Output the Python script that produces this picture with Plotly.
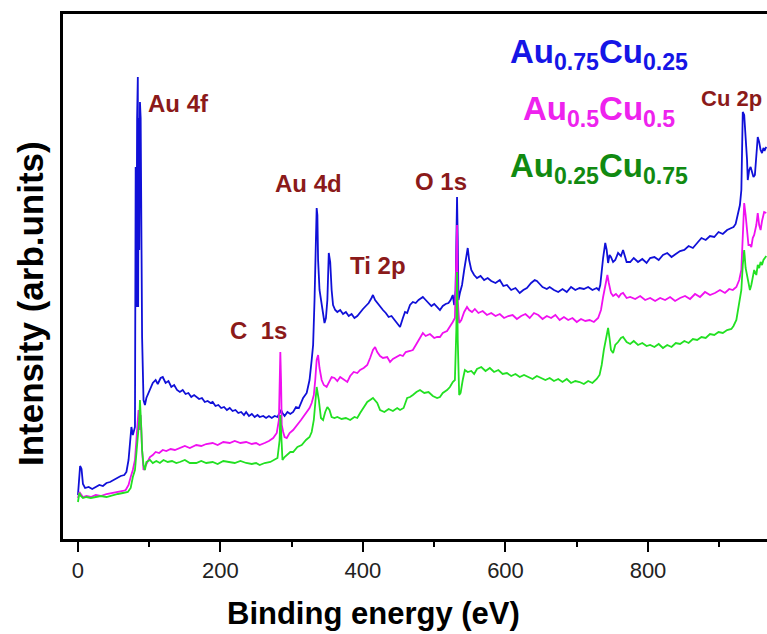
import plotly.graph_objects as go

# ---------------- data (binding energy in eV, intensity in arb. units) ----------------
blue_x = [0, 1.5, 3, 5, 7, 10, 15, 20, 25, 30, 35, 40, 45, 50, 55, 60, 65, 68, 71, 73, 75, 77, 79,
          80, 81, 82, 83, 84, 84.5, 85, 86, 87, 88, 89, 90, 92, 94, 96,
          101, 105, 109, 112, 116, 119, 123, 127, 131, 135, 139, 143, 147, 151, 155, 159, 163, 166,
          170, 174, 178, 182, 186, 189, 193, 197, 201, 205, 209, 213, 217, 221, 225, 229, 233, 236,
          240, 244, 248, 252, 255, 260, 264, 268, 272, 276, 280, 283, 285, 287, 290, 294, 298, 302,
          306, 310, 316, 321, 325, 328, 330, 332, 334, 335, 336, 337, 339, 342, 344, 346, 348, 350,
          352, 354, 356, 358, 361, 364, 368, 372, 376, 380, 384, 388, 392, 396, 400, 404, 408, 412,
          414, 417, 420, 424, 428, 432, 436, 440, 444, 448, 452, 456, 459, 462, 466, 470, 474, 478,
          484, 488, 492, 496, 500, 504, 508, 512, 516, 520, 523, 526, 528, 530, 531, 532, 533, 534,
          536, 539, 542, 545, 547, 549, 552, 556, 560, 565, 570, 575, 580, 586, 592, 597, 602, 608,
          614, 620, 625, 630, 636, 641, 644, 648, 652, 658, 662, 668, 674, 680, 686, 692, 698, 704,
          710, 716, 722, 728, 731, 733, 735, 737, 740, 742, 744, 746, 748, 751, 754, 758, 762, 765,
          770, 775, 780, 786, 792, 798, 803, 809, 815, 821, 827, 833, 839, 845, 851, 857, 863, 869,
          875, 881, 887, 893, 899, 905, 911, 917, 920, 923, 926, 929, 931, 932, 933, 935, 937, 939,
          940, 942, 944, 946, 948, 950, 952, 954, 956, 958, 960, 962, 964, 966]
blue_y = [44, 60, 73, 70, 55, 51, 52, 50, 52, 54, 53, 56, 57, 59, 61, 63, 64, 67, 79, 99, 112, 104, 109,
          112, 372, 232, 421, 462, 232, 421, 289, 437, 421, 232, 202, 139, 134, 141,
          149, 156, 159, 155, 161, 162, 156, 158, 152, 154, 149, 147, 149, 145, 146, 142, 144, 142,
          140, 141, 137, 138, 136, 137, 133, 134, 131, 132, 129, 131, 128, 129, 126, 127, 124, 127,
          123, 125, 122, 124, 122, 123, 121, 123, 121, 123, 122, 126, 129, 126, 123, 127, 125, 127,
          132, 131, 141, 146, 159, 179, 194, 239, 309, 331, 324, 279, 249, 234, 221, 216, 221, 239,
          286, 277, 249, 234, 229, 227, 229, 225, 227, 223, 225, 221, 223, 227, 230, 233, 236, 241,
          244, 239, 236, 232, 229, 226, 222, 223, 219, 216, 212, 221, 227, 226, 234, 237, 236, 239,
          242, 239, 236, 233, 235, 232, 229, 233, 235, 236, 239, 244, 234, 249, 309, 342, 299, 239,
          246, 254, 269, 284, 291, 279, 269, 264, 261, 263, 259, 261, 258, 256, 259, 253, 254, 249,
          251, 246, 249, 251, 256, 259, 258, 255, 252, 250, 252, 249, 247, 250, 247, 252, 249, 251,
          250, 252, 249, 251, 249, 254, 269, 281, 296, 289, 276, 284, 282, 277, 279, 286, 283, 289,
          277, 277, 281, 277, 280, 276, 281, 282, 279, 284, 286, 282, 285, 288, 289, 293, 291, 296,
          301, 299, 303, 302, 307, 305, 309, 311, 312, 315, 326, 334, 349, 389, 427, 424, 406, 379,
          359, 369, 372, 367, 362, 364, 384, 402, 397, 389, 386, 391, 389, 392]

mag_x = [0, 2, 4, 7, 12, 18, 25, 32, 40, 49, 56, 63, 67, 71, 74, 77, 80, 82, 84, 85, 87, 88, 90, 92,
         94, 97, 101, 105, 109, 114, 119, 124, 130, 136, 143, 150, 157, 166, 173, 180, 189, 196,
         204, 213, 220, 228, 236, 244, 250, 255, 262, 268, 274, 279, 282, 284, 285, 286, 288, 290,
         293, 297, 302, 308, 313, 316, 321, 325, 328, 331, 333, 335, 337, 339, 342, 345, 349, 352,
         356, 360, 364, 368, 372, 378, 382, 387, 392, 396, 401, 406, 410, 414, 417, 420, 424, 428,
         434, 438, 442, 447, 452, 456, 460, 466, 470, 475, 480, 484, 488, 494, 500, 504, 508, 512,
         518, 522, 526, 529, 531, 532, 533, 535, 538, 542, 546, 549, 553, 557, 562, 568, 574, 580,
         586, 592, 598, 604, 610, 616, 622, 628, 634, 640, 646, 652, 658, 664, 670, 676, 682, 688,
         694, 700, 706, 712, 718, 724, 730, 734, 737, 740, 743, 745, 748, 751, 755, 759, 762, 765,
         770, 775, 782, 789, 796, 803, 810, 817, 824, 831, 838, 845, 852, 859, 866, 873, 880, 887,
         894, 901, 908, 914, 919, 924, 928, 931, 933, 935, 937, 939, 941, 943, 945, 947, 949, 952,
         954, 956, 958, 960, 963, 966]
mag_y = [41, 47, 45, 42, 43, 42, 44, 43, 45, 46, 47, 48, 49, 54, 62, 69, 79, 99, 119, 129, 109, 124, 89, 69,
         72, 77, 82, 84, 87, 86, 89, 88, 90, 89, 91, 93, 91, 94, 93, 95, 96, 94,
         97, 96, 98, 96, 97, 95, 96, 94, 96, 98, 101, 106, 119, 187, 159, 114, 107, 102,
         101, 106, 109, 114, 119, 122, 127, 131, 136, 144, 159, 179, 184, 171, 159, 154, 152, 156,
         162, 161, 158, 162, 160, 157, 163, 167, 166, 169, 171, 174, 181, 189, 192, 187, 183, 181,
         182, 177, 180, 182, 184, 183, 187, 188, 189, 195, 202, 206, 203, 205, 201, 202, 202, 206,
         208, 212, 217, 221, 279, 314, 239, 216, 219, 227, 232, 229, 227, 230, 226, 228, 224, 226,
         223, 225, 221, 223, 224, 220, 223, 225, 221, 226, 224, 220, 223, 221, 224, 219, 222, 219,
         221, 217, 220, 218, 219, 217, 221, 229, 242, 254, 264, 256, 246, 243, 245, 242, 245, 246,
         241, 242, 240, 243, 239, 241, 238, 241, 239, 242, 238, 241, 243, 240, 245, 242, 247, 244,
         246, 249, 246, 250, 249, 252, 259, 269, 299, 336, 324, 309, 294, 294, 292, 301, 304, 314,
         326, 314, 309, 318, 327, 326]

grn_x = [0, 2, 4, 7, 12, 18, 25, 32, 40, 49, 56, 63, 70, 74, 77, 80, 82, 84, 86, 87, 88, 89, 90, 92,
         94, 96, 101, 105, 110, 115, 120, 126, 132, 138, 143, 150, 157, 166, 173, 180, 189, 196,
         204, 213, 220, 228, 236, 244, 250, 255, 262, 270, 276, 280, 283, 284, 285, 287, 290, 293,
         298, 302, 308, 314, 320, 325, 328, 331, 333, 335, 338, 341, 344, 347, 350, 353, 356, 360,
         364, 370, 376, 382, 388, 392, 396, 401, 406, 410, 414, 420, 424, 430, 436, 442, 448, 452,
         457, 462, 466, 470, 475, 480, 486, 492, 498, 504, 508, 512, 518, 522, 526, 529, 531, 532,
         533, 535, 537, 540, 543, 547, 552, 556, 560, 566, 572, 578, 584, 590, 596, 602, 608, 614,
         620, 626, 632, 638, 644, 650, 656, 662, 668, 674, 680, 686, 692, 698, 704, 710, 716, 722,
         728, 732, 735, 738, 741, 744, 746, 748, 751, 754, 758, 762, 765, 770, 775, 780, 786, 792,
         798, 803, 809, 815, 821, 827, 833, 839, 845, 851, 857, 863, 869, 875, 881, 887, 893, 899,
         905, 911, 917, 920, 924, 928, 931, 933, 935, 937, 939, 941, 943, 945, 947, 949, 952, 954,
         956, 958, 960, 962, 964, 966]
grn_y = [37, 46, 43, 41, 42, 41, 42, 43, 42, 44, 45, 46, 47, 51, 62, 69, 84, 102, 119, 139, 129, 109, 89, 74,
         69, 77, 79, 76, 78, 76, 79, 77, 78, 76, 77, 79, 76, 76, 78, 76, 77, 75,
         78, 77, 76, 78, 76, 75, 76, 74, 76, 77, 79, 81, 99, 124, 109, 79, 82, 84,
         87, 87, 92, 94, 99, 102, 107, 119, 139, 152, 139, 121, 119, 127, 132, 129, 122, 121,
         122, 120, 121, 119, 122, 121, 126, 131, 137, 139, 141, 136, 129, 127, 130, 128, 131, 129,
         131, 141, 142, 144, 147, 149, 146, 147, 143, 141, 142, 146, 149, 152, 157, 159, 209, 267,
         199, 144, 146, 159, 169, 167, 168, 165, 170, 172, 168, 171, 167, 169, 165, 166, 163, 165,
         162, 164, 162, 160, 163, 161, 159, 161, 158, 160, 157, 160, 156, 158, 157, 155, 158, 156,
         160, 164, 174, 189, 202, 211, 201, 189, 186, 194, 197, 201, 202, 197, 195, 198, 194, 196,
         193, 194, 192, 195, 191, 194, 192, 196, 195, 198, 196, 200, 199, 202, 201, 205, 204, 207,
         206, 209, 210, 213, 219, 234, 249, 274, 289, 271, 264, 257, 249, 254, 261, 269, 264, 274,
         271, 277, 274, 279, 281, 283]

series_names = ["Au0.75Cu0.25", "Au0.5Cu0.5", "Au0.25Cu0.75"]
peak_labels = ["Au 4f", "Au 4d", "C  1s", "Ti 2p", "O 1s", "Cu 2p"]
x_ticks = [0, 200, 400, 600, 800]

# ---------------- figure ----------------
W, H = 767, 634
L, R, T, B = 63, 0, 14, 95
PW, PH = W - L - R, H - T - B


def px(xp):
    return (xp - L) / PW


def py(yp):
    return (H - B - yp) / PH


fig = go.Figure()
fig.add_trace(go.Scatter(x=blue_x, y=blue_y, mode="lines", name=series_names[0],
                         line=dict(color="#1010D8", width=1.8)))
fig.add_trace(go.Scatter(x=mag_x, y=mag_y, mode="lines", name=series_names[1],
                         line=dict(color="#F010F0", width=1.8)))
fig.add_trace(go.Scatter(x=grn_x, y=grn_y, mode="lines", name=series_names[2],
                         line=dict(color="#22E022", width=1.8)))

LAB = "#8B1A1A"
label_pos = [(178, 103, "center", 24), (308, 183, "center", 24), (258, 330, "center", 24),
             (378, 265, "center", 24), (441, 182, "center", 24), (699, 98, "left", 22)]
annotations = []
for text, (x0, y0, anc, fs) in zip(peak_labels, label_pos):
    annotations.append(dict(text="<b>%s</b>" % text, xref="paper", yref="paper",
                            x=px(x0), y=py(y0), xanchor=anc, yanchor="middle",
                            showarrow=False,
                            font=dict(family="Liberation Sans, Arial", size=fs, color=LAB)))

leg = [("<b>Au<sub>0.75</sub>Cu<sub>0.25</sub></b>", "#1515E6", 54),
       ("<b>Au<sub>0.5</sub>Cu<sub>0.5</sub></b>", "#EE22EE", 111),
       ("<b>Au<sub>0.25</sub>Cu<sub>0.75</sub></b>", "#118A11", 168)]
for text, col, yc in leg:
    annotations.append(dict(text=text, xref="paper", yref="paper", x=px(599), y=py(yc),
                            xanchor="center", yanchor="middle", showarrow=False,
                            font=dict(family="Liberation Sans, Arial", size=33, color=col)))

annotations.append(dict(text="<b>Binding energy (eV)</b>", xref="paper", yref="paper",
                        x=px(373), y=py(613), xanchor="center", yanchor="middle",
                        showarrow=False,
                        font=dict(family="Liberation Sans, Arial", size=31, color="black")))
annotations.append(dict(text="<b>Intensity (arb.units)</b>", xref="paper", yref="paper",
                        x=px(30), y=py(304), xanchor="center", yanchor="middle",
                        textangle=-90, showarrow=False,
                        font=dict(family="Liberation Sans, Arial", size=35, color="black")))

fig.update_layout(
    width=W, height=H,
    margin=dict(l=L, r=R, t=T, b=B, pad=0),
    paper_bgcolor="white", plot_bgcolor="white",
    showlegend=False,
    annotations=annotations,
    xaxis=dict(range=[-21, 967], showgrid=False, zeroline=False,
               showline=True, linecolor="black", linewidth=2.5, mirror=True,
               ticks="outside", ticklen=10, tickwidth=2, tickcolor="black",
               tickvals=x_ticks, ticktext=[str(v) for v in x_ticks],
               minor=dict(tickvals=[100, 300, 500, 700, 900], ticks="outside", ticklen=5,
                          tickwidth=2, tickcolor="black"),
               tickfont=dict(family="Liberation Sans, Arial", size=22, color="#222")),
    yaxis=dict(range=[0, 525], showgrid=False, zeroline=False,
               showline=True, linecolor="black", linewidth=2.5, mirror=False,
               showticklabels=False, ticks=""),
)

fig.write_html("out.html")
